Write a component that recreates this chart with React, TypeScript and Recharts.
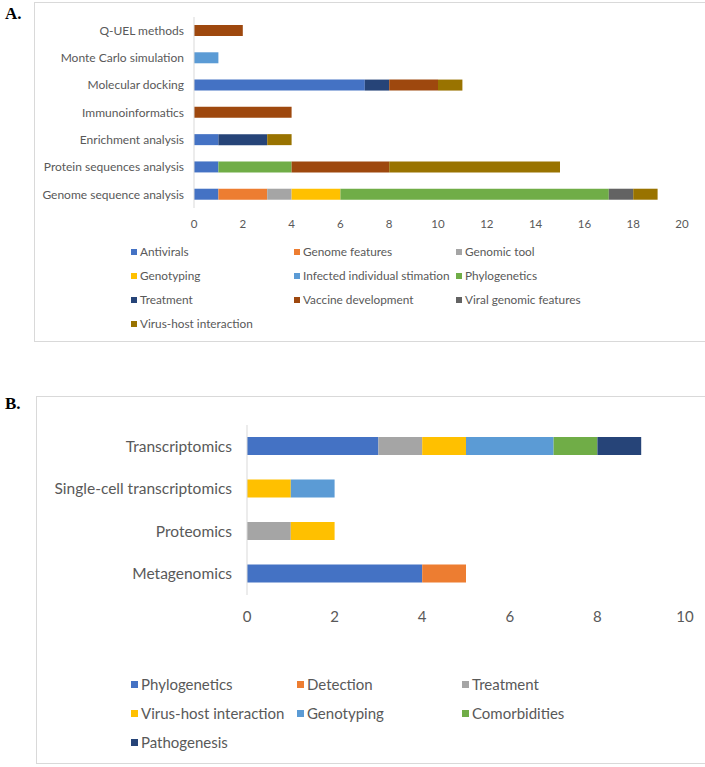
import { Bar, BarChart, XAxis, YAxis } from "recharts";

// Panel A: methods (top to bottom)
const methodsA = [
  "Q-UEL methods",
  "Monte Carlo simulation",
  "Molecular docking",
  "Immunoinformatics",
  "Enrichment analysis",
  "Protein sequences analysis",
  "Genome sequence analysis",
];
const seriesA = [
  "Antivirals",
  "Genome features",
  "Genomic tool",
  "Genotyping",
  "Infected individual stimation",
  "Phylogenetics",
  "Treatment",
  "Vaccine development",
  "Viral genomic features",
  "Virus-host interaction",
];
const antivirals = [0, 0, 7, 0, 1, 1, 1];
const genomeFeatures = [0, 0, 0, 0, 0, 0, 2];
const genomicTool = [0, 0, 0, 0, 0, 0, 1];
const genotypingA = [0, 0, 0, 0, 0, 0, 2];
const infectedEstimation = [0, 1, 0, 0, 0, 0, 0];
const phylogeneticsA = [0, 0, 0, 0, 0, 3, 11];
const treatmentA = [0, 0, 1, 0, 2, 0, 0];
const vaccineDevelopment = [2, 0, 2, 4, 0, 4, 0];
const viralGenomicFeatures = [0, 0, 0, 0, 0, 0, 1];
const virusHostA = [0, 0, 1, 0, 1, 7, 1];
const ticksA = [0, 2, 4, 6, 8, 10, 12, 14, 16, 18, 20];

// Panel B: omics (top to bottom)
const omicsB = ["Transcriptomics", "Single-cell transcriptomics", "Proteomics", "Metagenomics"];
const seriesB = [
  "Phylogenetics",
  "Detection",
  "Treatment",
  "Virus-host interaction",
  "Genotyping",
  "Comorbidities",
  "Pathogenesis",
];
const phylogeneticsB = [3, 0, 0, 4];
const detection = [0, 0, 0, 1];
const treatmentB = [1, 0, 1, 0];
const virusHostB = [1, 1, 1, 0];
const genotypingB = [2, 1, 0, 0];
const comorbidities = [1, 0, 0, 0];
const pathogenesis = [1, 0, 0, 0];
const ticksB = [0, 2, 4, 6, 8, 10];

const PALETTE = ["#4472C4", "#ED7D31", "#A5A5A5", "#FFC000", "#5B9BD5", "#70AD47", "#264478", "#9E480E", "#636363", "#997300"];
const colorsA = PALETTE;
const colorsB = PALETTE.slice(0, 7);

const valuesA = [antivirals, genomeFeatures, genomicTool, genotypingA, infectedEstimation, phylogeneticsA, treatmentA, vaccineDevelopment, viralGenomicFeatures, virusHostA];
const valuesB = [phylogeneticsB, detection, treatmentB, virusHostB, genotypingB, comorbidities, pathogenesis];

const dataA = methodsA.map((name, i) => {
  const row: Record<string, string | number> = { name };
  seriesA.forEach((s, k) => (row[s] = valuesA[k][i]));
  return row;
});
const dataB = omicsB.map((name, i) => {
  const row: Record<string, string | number> = { name };
  seriesB.forEach((s, k) => (row[s] = valuesB[k][i]));
  return row;
});

const FONT = "Lato, 'Open Sans', sans-serif";
const TEXT = "#595959";

function Legend({ names, colors, cols, top, rowGap, fontSize, sq }: { names: string[]; colors: string[]; cols: number[]; top: number; rowGap: number; fontSize: number; sq: number }) {
  return (
    <>
      {names.map((n, i) => {
        const x = cols[i % 3];
        const y = top + Math.floor(i / 3) * rowGap;
        return (
          <div key={n} style={{ position: "absolute", left: x, top: y - fontSize, height: fontSize * 2, display: "flex", alignItems: "center", fontFamily: FONT, fontSize, color: TEXT, whiteSpace: "nowrap" }}>
            <span style={{ display: "inline-block", width: sq, height: sq, background: colors[i], marginRight: 3 }} />
            {n}
          </div>
        );
      })}
    </>
  );
}

export default function App() {
  return (
    <div style={{ position: "absolute", left: 0, top: 0, width: 705, height: 767, background: "#fff", overflow: "hidden" }}>
      <div style={{ position: "absolute", left: 5, top: 4, fontFamily: "'Liberation Serif', serif", fontWeight: 700, fontSize: 17 }}>A.</div>
      <div style={{ position: "absolute", left: 34, top: 2, width: 680, height: 340, border: "1px solid #d9d9d9", boxSizing: "border-box" }} />
      <div style={{ position: "absolute", left: 0, top: 0 }}>
        <BarChart width={705} height={240} data={dataA} layout="vertical" margin={{ top: 17, right: 23, bottom: 2, left: 0 }}>
          <XAxis type="number" domain={[0, 20]} ticks={ticksA} axisLine={false} tickLine={false} tickSize={0} tickMargin={12} height={30} tick={{ fill: TEXT, fontSize: 11.5, fontFamily: FONT }} />
          <YAxis type="category" dataKey="name" width={194} axisLine={{ stroke: "#d9d9d9" }} tickLine={false} tickSize={0} tickMargin={10} tick={{ fill: TEXT, fontSize: 12, fontFamily: FONT }} />
          {seriesA.map((s, k) => (
            <Bar key={s} dataKey={s} stackId="a" fill={colorsA[k]} barSize={11} isAnimationActive={false} />
          ))}
        </BarChart>
      </div>
      <Legend names={seriesA} colors={colorsA} cols={[131, 294, 456]} top={252} rowGap={24} fontSize={11.8} sq={6} />

      <div style={{ position: "absolute", left: 5, top: 394, fontFamily: "'Liberation Serif', serif", fontWeight: 700, fontSize: 17 }}>B.</div>
      <div style={{ position: "absolute", left: 36, top: 396, width: 680, height: 368, border: "1px solid #d9d9d9", boxSizing: "border-box" }} />
      <div style={{ position: "absolute", left: 0, top: 380 }}>
        <BarChart width={705} height={260} data={dataB} layout="vertical" margin={{ top: 45, right: 20, bottom: 15, left: 0 }}>
          <XAxis type="number" domain={[0, 10]} ticks={ticksB} axisLine={false} tickLine={false} tickSize={0} tickMargin={16} height={30} tick={{ fill: TEXT, fontSize: 15, fontFamily: FONT }} />
          <YAxis type="category" dataKey="name" width={247} axisLine={{ stroke: "#d9d9d9" }} tickLine={false} tickSize={0} tickMargin={15} tick={{ fill: TEXT, fontSize: 15.5, fontFamily: FONT }} />
          {seriesB.map((s, k) => (
            <Bar key={s} dataKey={s} stackId="b" fill={colorsB[k]} barSize={18} isAnimationActive={false} />
          ))}
        </BarChart>
      </div>
      <Legend names={seriesB} colors={colorsB} cols={[131, 297, 462]} top={684} rowGap={29} fontSize={15} sq={7} />
    </div>
  );
}
